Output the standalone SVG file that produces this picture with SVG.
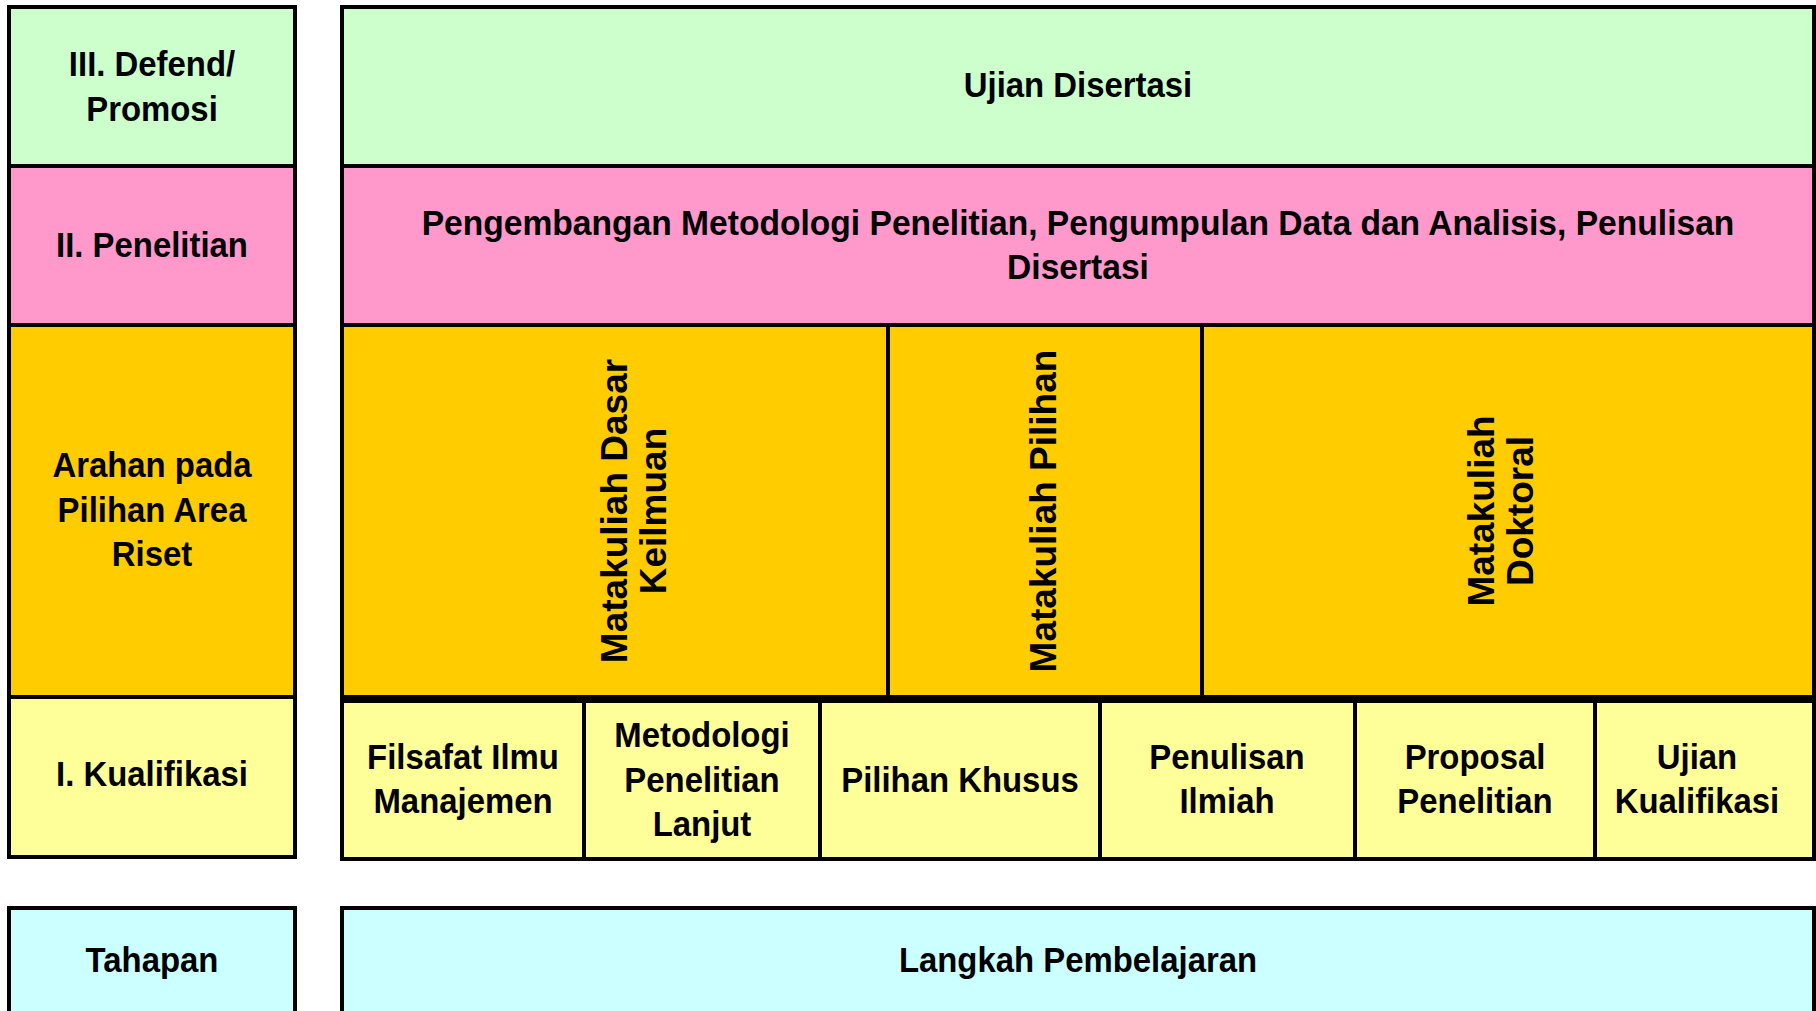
<svg xmlns="http://www.w3.org/2000/svg" width="1816" height="1011" viewBox="0 0 1816 1011">
<style>
rect{stroke:#000;stroke-width:4}
.g{fill:#CCFFCC}.p{fill:#FF99CC}.o{fill:#FFCC00}.y{fill:#FFFF99}.c{fill:#CCFFFF}
text{font-family:"Liberation Sans",Arial,sans-serif;font-weight:bold;font-size:35px;fill:#000;text-anchor:middle}
.v{font-size:37px}
</style>
<rect x="0" y="0" width="1816" height="1011" fill="#fff" style="stroke:none"/>
<g id="stage-defend"><rect class="g" x="9" y="7" width="286" height="159"/>
<text transform="translate(152,76) scale(0.94,1)"><tspan x="0" y="0">III. Defend/</tspan><tspan x="0" y="45">Promosi</tspan></text></g>
<g id="stage-penelitian"><rect class="p" x="9" y="166" width="286" height="159"/>
<text transform="translate(152,257) scale(0.94,1)">II. Penelitian</text></g>
<g id="stage-arahan"><rect class="o" x="9" y="325" width="286" height="372"/>
<text transform="translate(152,477) scale(0.94,1)"><tspan x="0" y="0">Arahan pada</tspan><tspan x="0" y="45">Pilihan Area</tspan><tspan x="0" y="89">Riset</tspan></text></g>
<g id="stage-kualifikasi"><rect class="y" x="9" y="697" width="286" height="160"/>
<text transform="translate(152,786) scale(0.94,1)">I. Kualifikasi</text></g>
<g id="stage-tahapan"><rect class="c" x="9" y="908" width="286" height="120"/>
<text transform="translate(152,972) scale(0.94,1)">Tahapan</text></g>

<g id="ujian-disertasi"><rect class="g" x="342" y="7" width="1472" height="159"/>
<text transform="translate(1078,97) scale(0.94,1)">Ujian Disertasi</text></g>
<g id="pengembangan"><rect class="p" x="342" y="166" width="1472" height="159"/>
<text transform="translate(1078,235) scale(0.96,1)"><tspan x="0" y="0">Pengembangan Metodologi Penelitian, Pengumpulan Data dan Analisis, Penulisan</tspan><tspan x="0" y="44">Disertasi</tspan></text></g>
<g id="mk-dasar"><rect class="o" x="342" y="325" width="546" height="372"/>
<text class="v" transform="translate(627,511) rotate(-90)"><tspan x="0" y="0">Matakuliah Dasar</tspan><tspan x="0" y="39">Keilmuan</tspan></text></g>
<g id="mk-pilihan"><rect class="o" x="888" y="325" width="314" height="372"/>
<text class="v" transform="translate(1056,511) rotate(-90)">Matakuliah Pilihan</text></g>
<g id="mk-doktoral"><rect class="o" x="1202" y="325" width="612" height="372"/>
<text class="v" transform="translate(1494,511) rotate(-90)"><tspan x="0" y="0">Matakuliah</tspan><tspan x="0" y="39">Doktoral</tspan></text></g>

<g id="filsafat"><rect class="y" x="342" y="701" width="242" height="158"/>
<text transform="translate(463,769) scale(0.94,1)"><tspan x="0" y="0">Filsafat Ilmu</tspan><tspan x="0" y="44">Manajemen</tspan></text></g>
<g id="metodologi"><rect class="y" x="584" y="701" width="236" height="158"/>
<text transform="translate(702,747) scale(0.94,1)"><tspan x="0" y="0">Metodologi</tspan><tspan x="0" y="45">Penelitian</tspan><tspan x="0" y="89">Lanjut</tspan></text></g>
<g id="pilihan-khusus"><rect class="y" x="820" y="701" width="280" height="158"/>
<text transform="translate(960,792) scale(0.94,1)">Pilihan Khusus</text></g>
<g id="penulisan"><rect class="y" x="1100" y="701" width="255" height="158"/>
<text transform="translate(1227,769) scale(0.94,1)"><tspan x="0" y="0">Penulisan</tspan><tspan x="0" y="44">Ilmiah</tspan></text></g>
<g id="proposal"><rect class="y" x="1355" y="701" width="240" height="158"/>
<text transform="translate(1475,769) scale(0.94,1)"><tspan x="0" y="0">Proposal</tspan><tspan x="0" y="44">Penelitian</tspan></text></g>
<g id="ujian-kualifikasi"><rect class="y" x="1595" y="701" width="219" height="158"/>
<text transform="translate(1697,769) scale(0.94,1)"><tspan x="0" y="0">Ujian</tspan><tspan x="0" y="44">Kualifikasi</tspan></text></g>

<g id="langkah"><rect class="c" x="342" y="908" width="1472" height="120"/>
<text transform="translate(1078,972) scale(0.94,1)">Langkah Pembelajaran</text></g>
<g id="connectors"/>
</svg>
